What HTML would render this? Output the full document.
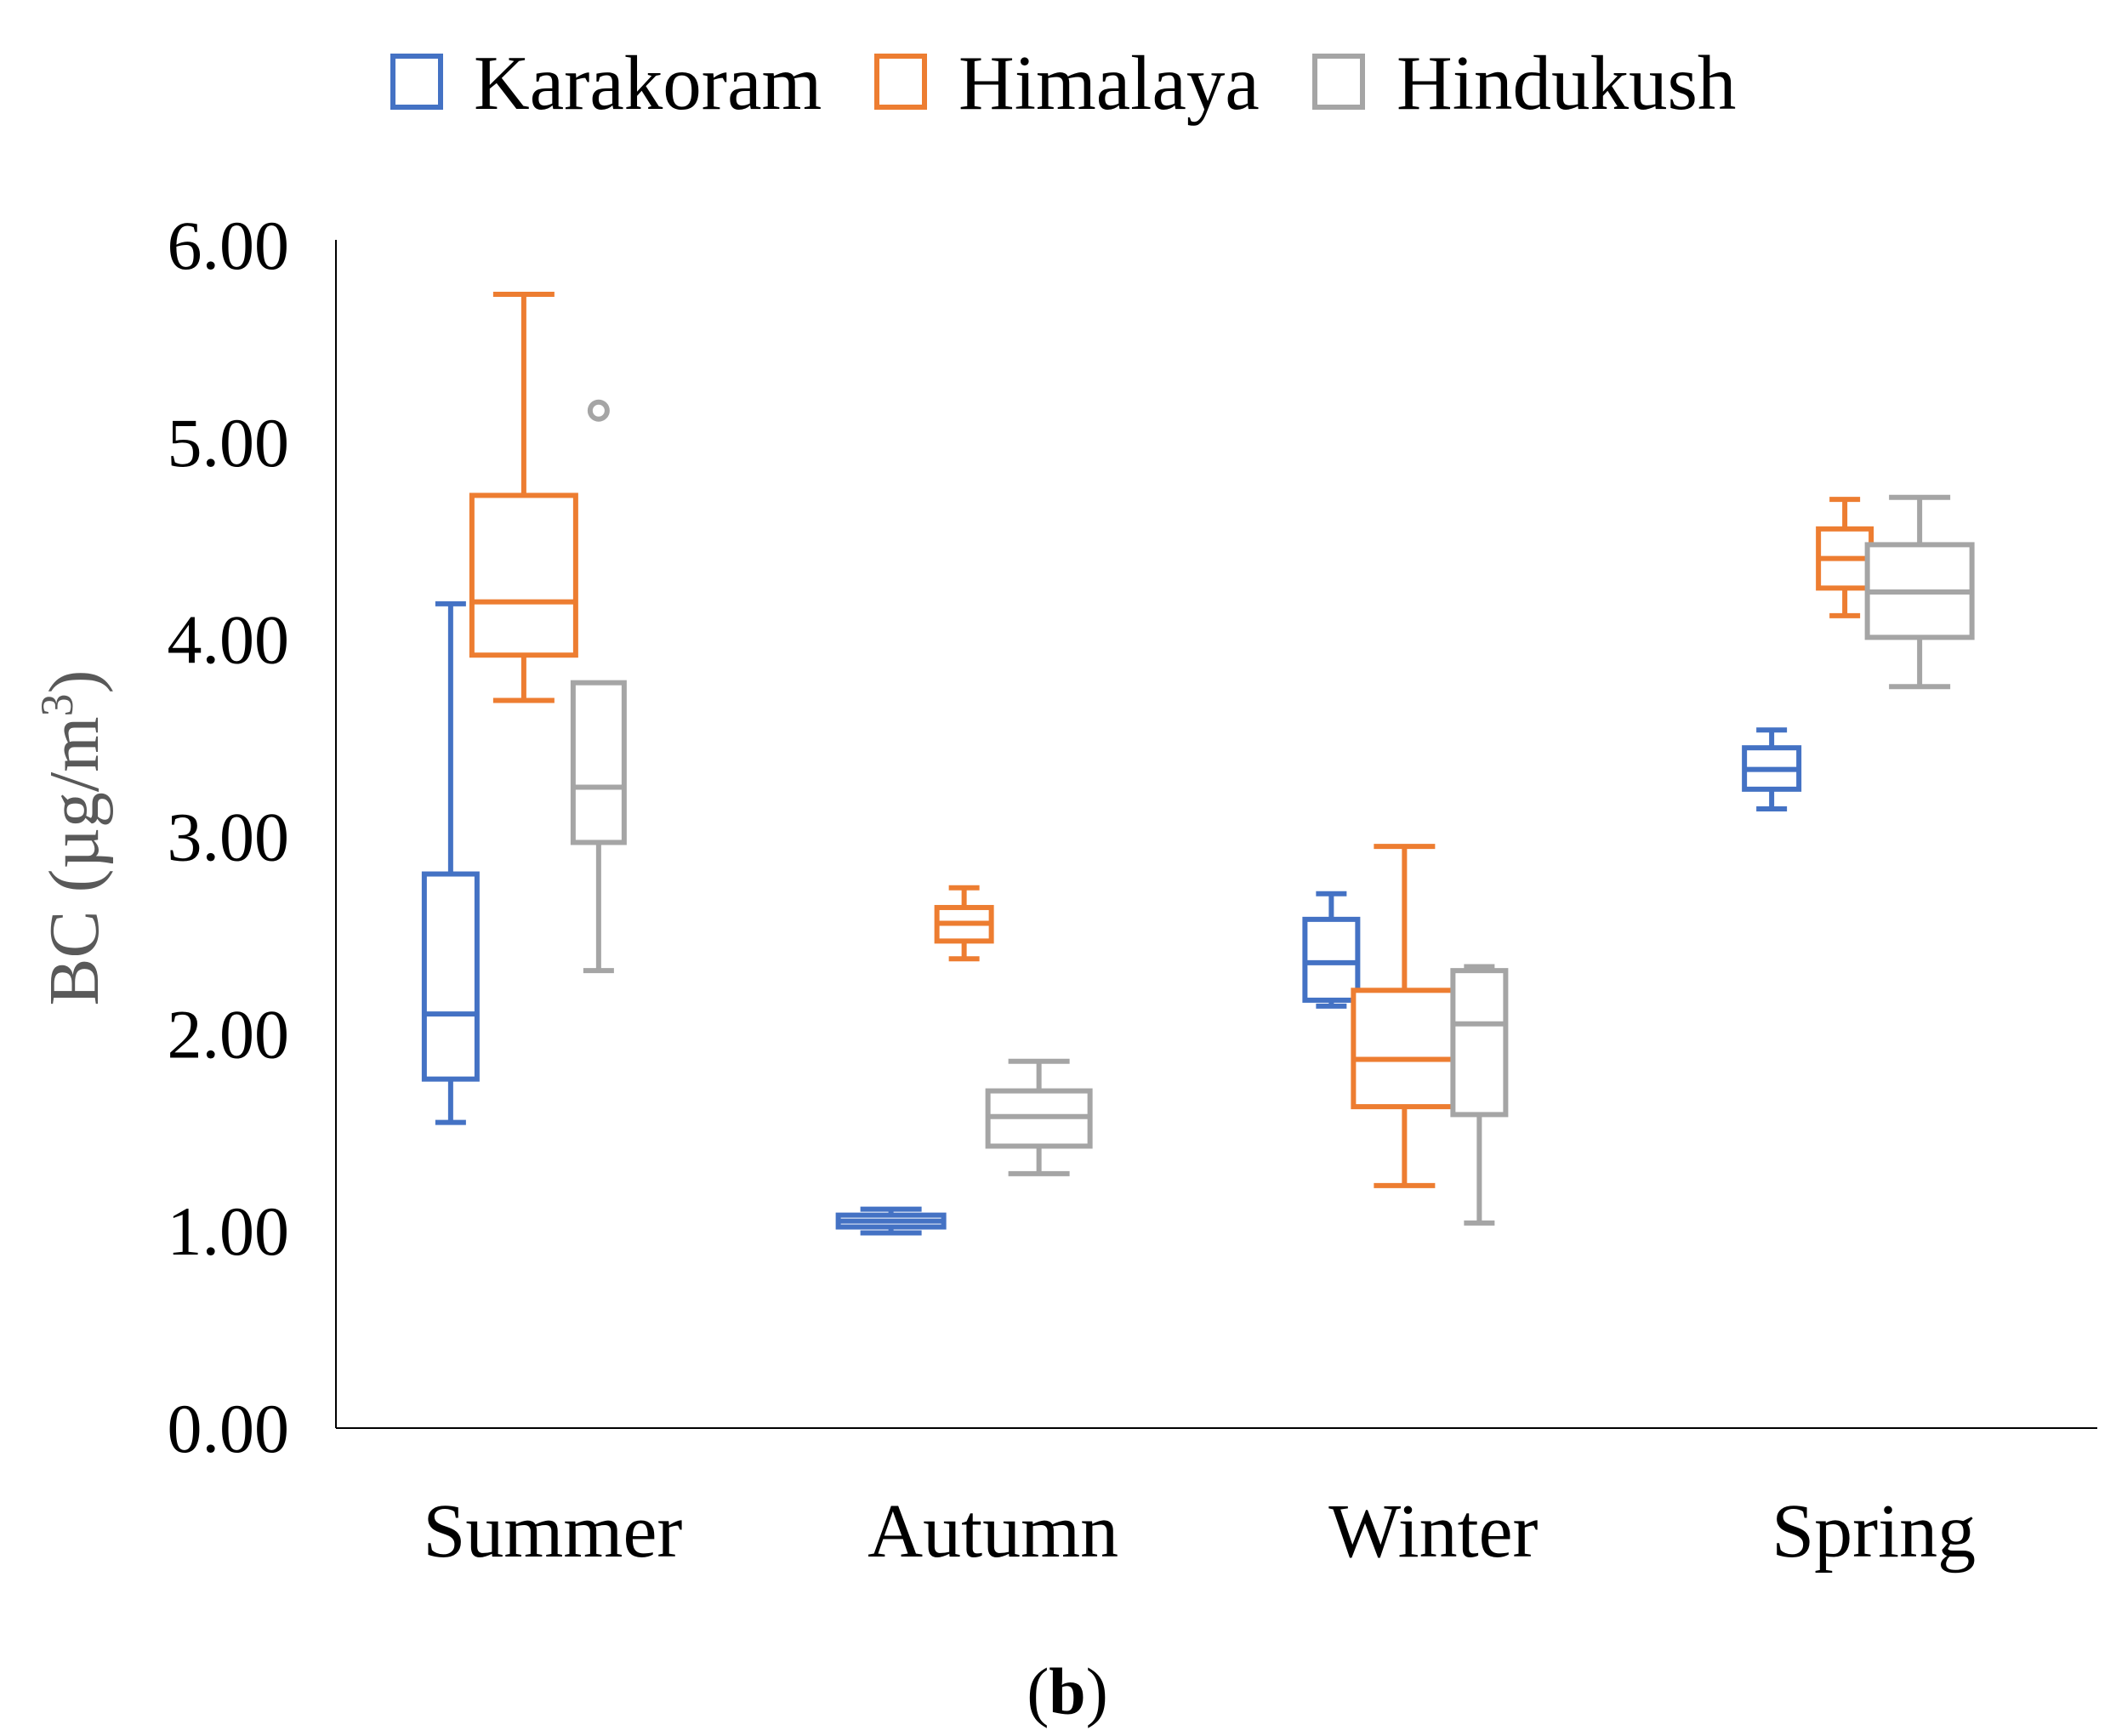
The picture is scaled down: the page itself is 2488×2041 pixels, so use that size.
<!DOCTYPE html>
<html><head><meta charset="utf-8"><style>
html,body{margin:0;padding:0;background:#fff;}
svg{display:block;}
text{font-family:"Liberation Serif",serif;}
</style></head><body>
<svg id="chart" width="2488" height="2041" viewBox="0 0 2488 2041" xmlns="http://www.w3.org/2000/svg">
<g id="legend">
  <g><rect x="462" y="66" width="56" height="60" fill="none" stroke="#4472C4" stroke-width="6"/><text x="557" y="128" font-size="91">Karakoram</text></g>
  <g><rect x="1031" y="66" width="56" height="60" fill="none" stroke="#ED7D31" stroke-width="6"/><text x="1127" y="128" font-size="91">Himalaya</text></g>
  <g><rect x="1546" y="66" width="56" height="60" fill="none" stroke="#A5A5A5" stroke-width="6"/><text x="1642" y="128" font-size="91">Hindukush</text></g>
</g>
<g id="axes"></g>
<g id="marks"></g>
<text transform="translate(115,985) rotate(-90)" text-anchor="middle" font-size="84" fill="#595959">BC (µg/m<tspan baseline-shift="super" font-size="54">3</tspan>)</text>
<text x="1255" y="2015" text-anchor="middle" font-size="78">(<tspan font-weight="bold">b</tspan>)</text>
</svg>
<script>
const categories = ["Summer","Autumn","Winter","Spring"];
const seriesNames = ["Karakoram","Himalaya","Hindukush"];
const yTicks = [0,1,2,3,4,5,6];
const yTickLabels = ["0.00","1.00","2.00","3.00","4.00","5.00","6.00"];
// per series: [min, q1, median, q3, max] per category
const karakoram = [[1.55,1.77,2.10,2.81,4.18],[0.99,1.02,1.05,1.08,1.11],[2.14,2.17,2.36,2.58,2.71],[3.14,3.24,3.34,3.45,3.54]];
const himalaya  = [[3.69,3.92,4.19,4.73,5.75],[2.38,2.47,2.56,2.64,2.74],[1.23,1.63,1.87,2.22,2.95],[4.12,4.26,4.41,4.56,4.71]];
const hindukush = [[2.32,2.97,3.25,3.78,5.16],[1.29,1.43,1.58,1.71,1.86],[1.04,1.59,2.05,2.32,2.34],[3.76,4.01,4.24,4.48,4.72]];
const outliers = [[],[],[[0,5.16]]];
const hindukushSummerMaxNoOutlier = 3.78;

const colors = ["#4472C4","#ED7D31","#A5A5A5"];
const boxWidths = [[62,124,62,64],[122,64,120,62],[60,120,62,123]];
const X0=395, X1=2466, Y0=1679, Y6=288;
const y = v => Y0 - (v/6)*(Y0-Y6);
const band = (X1-X0)/categories.length;
const xc = i => X0 + band*(i+0.5);
const offsets = [-124,-38,50];
const NS="http://www.w3.org/2000/svg";
function mk(tag, attrs, parent){const e=document.createElementNS(NS,tag);for(const k in attrs)e.setAttribute(k,attrs[k]);parent.appendChild(e);return e;}
const axes=document.getElementById('axes'), marks=document.getElementById('marks');
let e=mk('line',{x1:X0,y1:Y6-6,x2:X0,y2:Y0,stroke:'#000','stroke-width':2},axes);


e=mk('line',{x1:X0,y1:Y0,x2:X1,y2:Y0,stroke:'#000','stroke-width':2},axes);


yTicks.forEach((t,i)=>{
  const tx=mk('text',{x:340,y:y(t)+28,'text-anchor':'end','font-size':82},axes);
  tx.textContent=yTickLabels[i];
  
  
});
categories.forEach((c,i)=>{
  const tx=mk('text',{x:xc(i)-4,y:1830,'text-anchor':'middle','font-size':90},axes);
  tx.textContent=c;
  
  
});
const all=[karakoram,himalaya,hindukush];
all.forEach((ser,s)=>{
  ser.forEach((d,i)=>{
    const cx=xc(i)+offsets[s], w=boxWidths[s][i], col=colors[s];
    let mx=d[4]; if(s===2&&i===0) mx=hindukushSummerMaxNoOutlier;
    const g=mk('g',{stroke:col,'stroke-width':6,fill:'none'},marks);
    
    
    const cap=w>100?36:18;
    mk('line',{x1:cx,y1:y(mx),x2:cx,y2:y(d[3])},g);
    mk('line',{x1:cx,y1:y(d[0]),x2:cx,y2:y(d[1])},g);
    if(!(s===2&&i===0)) mk('line',{x1:cx-cap,y1:y(mx),x2:cx+cap,y2:y(mx)},g);
    mk('line',{x1:cx-cap,y1:y(d[0]),x2:cx+cap,y2:y(d[0])},g);
    mk('rect',{x:cx-w/2,y:y(d[3]),width:w,height:y(d[1])-y(d[3]),fill:'#fff'},g);
    mk('line',{x1:cx-w/2,y1:y(d[2]),x2:cx+w/2,y2:y(d[2])},g);
  });
});
outliers.forEach((list,s)=>list.forEach(([i,v])=>{
  const c=mk('circle',{cx:xc(i)+offsets[s],cy:y(v),r:10,fill:'none',stroke:colors[s],'stroke-width':6},marks);
  
  
}));
</script>
</body></html>
